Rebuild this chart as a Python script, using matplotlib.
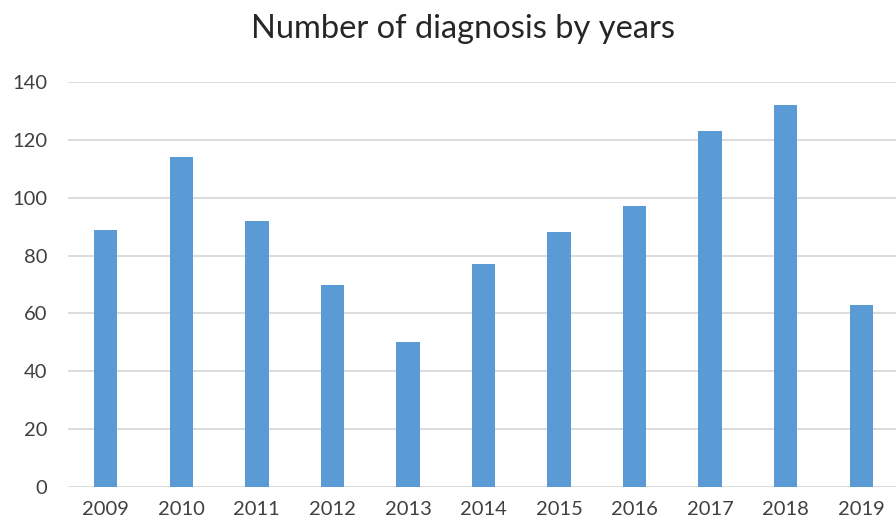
import matplotlib.pyplot as plt
import numpy as np

plt.rcParams['font.family'] = ['Lato', 'DejaVu Sans']

years = ['2009', '2010', '2011', '2012', '2013', '2014', '2015', '2016', '2017', '2018', '2019']
diagnoses = [89, 114, 92, 70, 50, 77, 88, 97, 123, 132, 63]
y_ticks = [0, 20, 40, 60, 80, 100, 120, 140]

fig = plt.figure(figsize=(8.96, 5.24), dpi=100)
ax = fig.add_axes([68 / 896, 37 / 524, 831 / 896, 405 / 524])

x = np.arange(len(years))
ax.bar(x, diagnoses, width=0.31, color='#5B9BD5', zorder=3)

ax.set_xlim(-0.5, len(years) - 0.5)
ax.set_ylim(0, 140)
ax.set_yticks(y_ticks)
ax.set_xticks(x)
ax.set_xticklabels(years)
ax.grid(axis='y', color='#D9D9D9', linewidth=1.3, zorder=0)
ax.tick_params(axis='both', length=0, labelsize=14.5, colors='#404040')
ax.tick_params(axis='y', pad=15)
ax.tick_params(axis='x', pad=10)
for s in ax.spines.values():
    s.set_visible(False)

fig.text(463 / 896, 1 - 29 / 524, 'Number of diagnosis by years', ha='center', va='center',
         fontsize=23.5, color='#262626')

fig.savefig('out.png', dpi=100)
